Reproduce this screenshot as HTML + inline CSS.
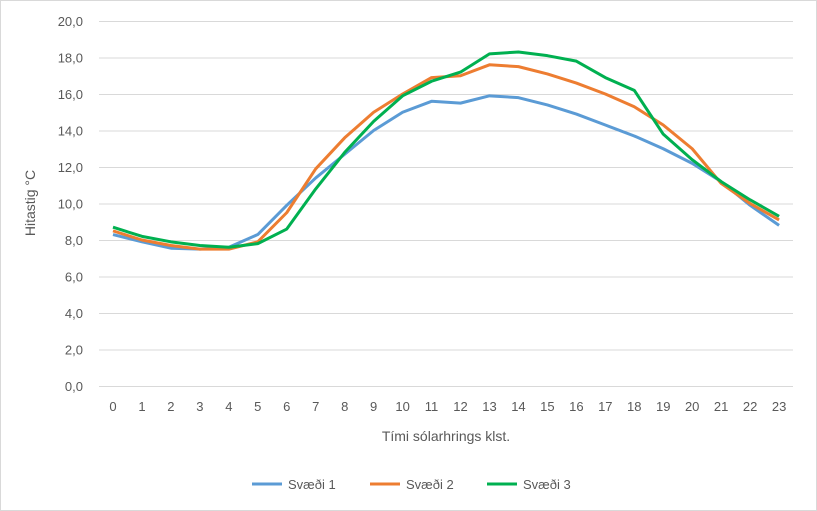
<!DOCTYPE html>
<html><head><meta charset="utf-8"><style>body{margin:0;background:#fff}svg{display:block}text{font-family:"Liberation Sans",sans-serif;fill:#595959}</style></head><body>
<svg width="817" height="511" viewBox="0 0 817 511" xmlns="http://www.w3.org/2000/svg">
<rect x="0.5" y="0.5" width="816" height="510" fill="#fff" stroke="#d9d9d9"/>
<g id="grid" stroke="#d9d9d9" stroke-width="1"></g>
<g id="ylab" font-size="13" text-anchor="end"></g>
<g id="xlab" font-size="13" text-anchor="middle"></g>
<g id="series" fill="none" stroke-width="3" stroke-linejoin="round"></g>
<text x="35" y="203" font-size="14" text-anchor="middle" transform="rotate(-90 35 203)">Hitastig °C</text>
<text x="446" y="441" font-size="14" text-anchor="middle">Tími sólarhrings  klst.</text>
<g font-size="13">
<line x1="252" y1="484" x2="282" y2="484" stroke="#5b9bd5" stroke-width="3"/><text x="288" y="489">Svæði 1</text>
<line x1="370" y1="484" x2="400" y2="484" stroke="#ed7d31" stroke-width="3"/><text x="406" y="489">Svæði 2</text>
<line x1="487" y1="484" x2="517" y2="484" stroke="#00b050" stroke-width="3"/><text x="523" y="489">Svæði 3</text>
</g>
<script>
var ns="http://www.w3.org/2000/svg";
function Y(v){return 386-v*18.25}
function X(i){return 113+i*28.96}
var g=document.getElementById('grid'),yl=document.getElementById('ylab'),xl=document.getElementById('xlab');
for(var v=0;v<=20;v+=2){var l=document.createElementNS(ns,'line');l.setAttribute('x1',99);l.setAttribute('x2',793);l.setAttribute('y1',Y(v)+0.5);l.setAttribute('y2',Y(v)+0.5);g.appendChild(l);
var t=document.createElementNS(ns,'text');t.setAttribute('x',83);t.setAttribute('y',Y(v)+5);t.textContent=v.toFixed(1).replace('.',',');yl.appendChild(t);}
for(var i=0;i<24;i++){var t=document.createElementNS(ns,'text');t.setAttribute('x',X(i));t.setAttribute('y',411);t.textContent=i;xl.appendChild(t);}
var d=[["#5b9bd5",[8.3,7.9,7.55,7.5,7.6,8.3,9.9,11.4,12.7,14.0,15.0,15.6,15.5,15.9,15.8,15.4,14.9,14.3,13.7,13.0,12.2,11.2,9.9,8.8]],
["#ed7d31",[8.5,8.0,7.7,7.5,7.5,7.9,9.5,11.9,13.6,15.0,16.0,16.9,17.0,17.6,17.5,17.1,16.6,16.0,15.3,14.3,13.0,11.1,10.0,9.1]],
["#00b050",[8.7,8.2,7.9,7.7,7.6,7.8,8.6,10.8,12.8,14.5,15.9,16.7,17.2,18.2,18.3,18.1,17.8,16.9,16.2,13.8,12.4,11.2,10.2,9.3]]];
var s=document.getElementById('series');
d.forEach(function(a){var p=document.createElementNS(ns,'polyline');p.setAttribute('stroke',a[0]);p.setAttribute('points',a[1].map(function(v,i){return X(i)+','+Y(v)}).join(' '));s.appendChild(p);});
</script>
</svg>
</body></html>
